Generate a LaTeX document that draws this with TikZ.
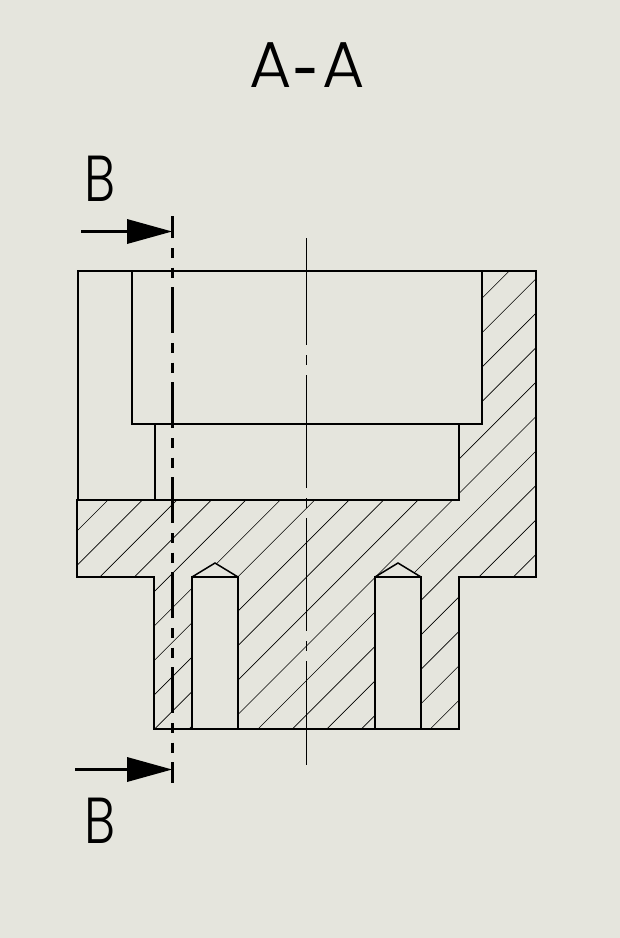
\documentclass[tikz,border=0pt]{standalone}
\usepackage{fontspec}
\setmainfont{Poppins Light}
\definecolor{bgc}{HTML}{E5E5DD}
\tikzset{
  outline/.style={line width=2pt,line join=miter,draw=black},
  hatchline/.style={line width=0.65pt,draw=black},
  centerln/.style={line width=1pt,draw=black,dash pattern=on 113pt off 10pt on 10pt off 10pt,dash phase=6pt},
  cutln/.style={line width=3pt,draw=black,dash pattern=on 46pt off 10pt on 10pt off 9.5pt on 10pt off 9.5pt,dash phase=24pt},
  arrowshaft/.style={line width=3pt,draw=black},
  arrowhead/.style={fill=black,draw=none},
  label/.style={inner sep=0pt,text=black}
}
\begin{document}
\begin{tikzpicture}[x=1pt,y=-1pt]
\useasboundingbox (0,0) rectangle (620,938);
\fill[bgc] (0,0) rectangle (620,938);
% hatching
\begin{scope}
\clip (482,271)--(536,271)--(536,577)--(459,577)--(459,729)--(154,729)--(154,577)--(77,577)--(77,500)--(459,500)--(459,424)--(482,424)--cycle;
\foreach \k in {0,...,17}{
  \pgfmathsetmacro{\c}{608+34.45*\k}
  \draw[hatchline] (\c-200,200)--(\c-800,800);
}
\end{scope}
\fill[bgc] (192,577)--(215,563)--(238,577)--(238,729)--(192,729)--cycle;
\fill[bgc] (375,577)--(398,563)--(421,577)--(421,729)--(375,729)--cycle;
% centre line
\coordinate (ctop) at (306.5,238);
\coordinate (cbot) at (306.5,765);
\draw[centerln] (ctop)--(cbot);
% outlines
\draw[outline] (78,500)--(78,271)--(536,271)--(536,577)--(459,577)--(459,729)--(154,729)--(154,577)--(77,577)--(77,500)--(459,500)--(459,424)--(482,424)--(482,271);
\draw[outline] (132,271)--(132,424)--(482,424);
\draw[outline] (155,424)--(155,500);
\draw[outline] (192,729)--(192,577)--(238,577)--(238,729);
\draw[outline] (375,729)--(375,577)--(421,577)--(421,729);
\draw[line width=1.5pt,line join=miter] (192,577)--(215,563)--(238,577);
\draw[line width=1.5pt,line join=miter] (375,577)--(398,563)--(421,577);
% cutting line
\coordinate (cuttop) at (172.5,216);
\coordinate (cutbot) at (172.5,783);
\draw[cutln] (cuttop)--(cutbot);
% arrows
\coordinate (a1s) at (81,231.5);
\coordinate (a1e) at (172,231.5);
\coordinate (a2s) at (75,769.5);
\coordinate (a2e) at (172,769.5);
\draw[arrowshaft] (a1s)--(130,231.5);
\fill[arrowhead] (a1e)--(127,219)--(127,244)--cycle;
\draw[arrowshaft] (a2s)--(130,769.5);
\fill[arrowhead] (a2e)--(127,757)--(127,782)--cycle;
% labels
\node[label,font=\fontsize{65}{65}\selectfont,anchor=base] (title) at (307,87) {A\kern2.5pt\raisebox{-16pt}{\scalebox{0.75}[1.35]{-}}\kern2.5ptA};
\node[label,font=\fontsize{65}{65}\selectfont,anchor=base,xscale=0.8] (b1) at (100.5,201) {B};
\node[label,font=\fontsize{65}{65}\selectfont,anchor=base,xscale=0.8] (b2) at (100.5,843) {B};
\end{tikzpicture}
\end{document}
